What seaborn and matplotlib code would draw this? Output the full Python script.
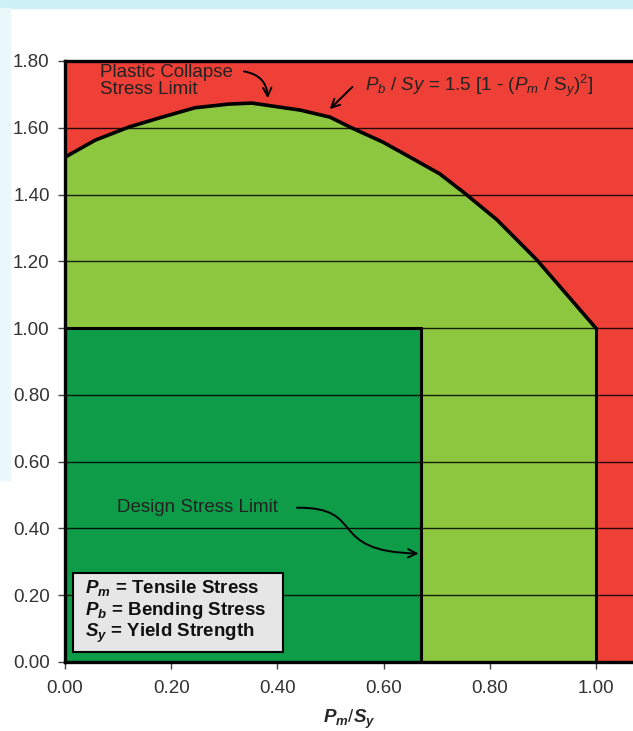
import numpy as np
import pandas as pd
import seaborn as sns
import matplotlib.pyplot as plt
from matplotlib.patches import Rectangle, FancyArrowPatch
from matplotlib.path import Path

# plastic collapse curve (Pm/Sy, Pb/Sy)
curve_x = [0.0, 0.057, 0.12, 0.183, 0.245, 0.309, 0.352, 0.443, 0.499, 0.537,
           0.599, 0.65, 0.706, 0.753, 0.814, 0.889, 0.938, 1.0]
curve_y = [1.512, 1.563, 1.602, 1.632, 1.66, 1.671, 1.674, 1.653, 1.632, 1.602,
           1.557, 1.512, 1.462, 1.404, 1.324, 1.204, 1.114, 1.00]
design_x = 0.67   # design stress limit (Pm/Sy)
design_y = 1.00
collapse_x = 1.00
yticks = [0.0, 0.2, 0.4, 0.6, 0.8, 1.0, 1.2, 1.4, 1.6, 1.8]
xticks = [0.0, 0.2, 0.4, 0.6, 0.8, 1.0]
legend_lines = [r"$\mathbfit{P}_{\mathbfit{m}}$ = Tensile Stress",
                r"$\mathbfit{P}_{\mathbfit{b}}$ = Bending Stress",
                r"$\mathbfit{S}_{\mathbfit{y}}$ = Yield Strength"]

RED = "#EE4036"
LGREEN = "#8DC63F"
DGREEN = "#0E9C48"
FS = 13.5

sns.set_style("white")
plt.rcParams['font.family'] = ['Liberation Sans', 'DejaVu Sans']
plt.rcParams['mathtext.fontset'] = 'custom'
plt.rcParams['mathtext.rm'] = 'Liberation Sans'
plt.rcParams['mathtext.it'] = 'Liberation Sans:italic'
plt.rcParams['mathtext.bf'] = 'Liberation Sans:bold'
plt.rcParams['mathtext.bfit'] = 'Liberation Sans:bold:italic'

fig = plt.figure(figsize=(6.33, 7.31), dpi=100)
# screenshot frame bits
fig.patches.append(Rectangle((0, 1 - 8 / 731), 1, 8 / 731, transform=fig.transFigure,
                             color="#CDEFF6", zorder=0))
fig.patches.append(Rectangle((0, 1 - 480 / 731), 10 / 633, 472 / 731, transform=fig.transFigure,
                             color="#EAF8FB", zorder=0))

ax = fig.add_axes([65 / 633, 69 / 731, 568 / 633, 601 / 731])
ax.set_facecolor(RED)
ax.set_xlim(0, 1.07)
ax.set_ylim(0, 1.80)

df = pd.DataFrame({"x": curve_x, "y": curve_y})
ax.fill_between(df["x"], 0, df["y"], color=LGREEN, lw=0, zorder=1)
ax.add_patch(Rectangle((0, 0), design_x, design_y, facecolor=DGREEN, edgecolor="none", zorder=2))

# horizontal grid lines
for yv in yticks[1:-1]:
    ax.axhline(yv, color="black", lw=1.0, alpha=0.85, zorder=3)

ax.add_patch(Rectangle((0, 0), design_x, design_y, facecolor="none", edgecolor="black",
                       lw=2.2, zorder=4))
ax.plot([collapse_x, collapse_x], [0, df["y"].iloc[-1]], color="black", lw=2.2, zorder=4)
sns.lineplot(data=df, x="x", y="y", color="black", lw=2.6, ax=ax, zorder=5, sort=False)

for side in ["left", "bottom", "top"]:
    ax.spines[side].set_linewidth(2.4)
    ax.spines[side].set_color("black")
ax.spines["right"].set_visible(False)
ax.set_yticks(yticks)
ax.set_yticklabels(["{:.2f}".format(v) for v in yticks])
ax.set_xticks(xticks)
ax.set_xticklabels(["{:.2f}".format(v) for v in xticks])
ax.tick_params(axis="both", direction="out", length=5, width=1, color="#444444",
               labelsize=FS, labelcolor="#333333", left=True, bottom=True)
ax.tick_params(axis="y", pad=6)
ax.tick_params(axis="x", pad=8)
ax.set_xlabel(r"$\mathbfit{P}_{\mathbfit{m}}$/$\mathbfit{S}_{\mathbfit{y}}$", fontsize=FS, labelpad=8)
ax.set_ylabel("")

# annotations
ax.text(0.066, 1.79, "Plastic Collapse\nStress Limit", fontsize=FS, color="#222222",
        va="top", ha="left", linespacing=0.95, zorder=6)
ax.annotate("", xy=(0.382, 1.680), xytext=(0.332, 1.770),
            arrowprops=dict(arrowstyle="->", color="black", lw=1.4, mutation_scale=15,
                            connectionstyle="arc3,rad=-0.45"), zorder=6)
ax.text(0.565, 1.725, r"$P_b$ / $Sy$ = 1.5 [1 - ($P_m$ / S$_y$)$^2$]", fontsize=FS,
        color="#222222", va="center", ha="left", zorder=6)
ax.annotate("", xy=(0.495, 1.650), xytext=(0.545, 1.728),
            arrowprops=dict(arrowstyle="->", color="black", lw=1.4, mutation_scale=15), zorder=6)
ax.text(0.098, 0.463, "Design Stress Limit", fontsize=FS, color="#222222",
        va="center", ha="left", zorder=6)
s_path = Path([(0.437, 0.462), (0.57, 0.465), (0.49, 0.33), (0.666, 0.325)],
              [Path.MOVETO, Path.CURVE4, Path.CURVE4, Path.CURVE4])
ax.add_patch(FancyArrowPatch(path=s_path, arrowstyle="->", color="black", lw=1.4,
                             mutation_scale=15, zorder=6))

# definitions box
ax.add_patch(Rectangle((0.015, 0.03), 0.395, 0.237, facecolor="#E6E6E6", edgecolor="black",
                       lw=1.5, zorder=6))
for i, line in enumerate(legend_lines):
    ax.text(0.038, 0.222 - i * 0.068, line, fontsize=FS, fontweight="bold", color="#111111",
            va="center", ha="left", zorder=7)

fig.savefig("out.png", dpi=100)
